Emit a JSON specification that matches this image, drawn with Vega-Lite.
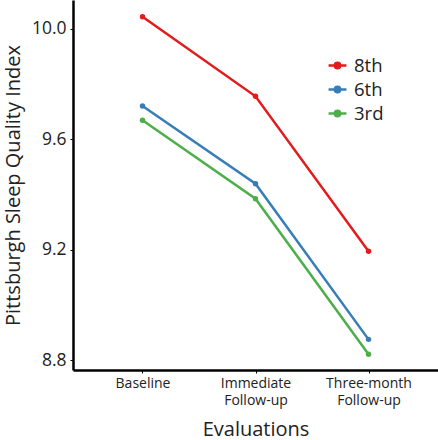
{
  "$schema": "https://vega.github.io/schema/vega-lite/v6.json",
  "width": 365,
  "height": 370,
  "autosize": "none",
  "padding": {"left": 73, "top": 0, "right": 0, "bottom": 70},
  "background": "white",
  "config": {
    "font": "Open Sans",
    "view": {"stroke": null},
    "axis": {"labelColor": "#222", "titleColor": "#222", "domainColor": "black", "tickColor": "black", "grid": false}
  },
  "data": {
    "values": [
      {"evaluation": "Baseline", "grade": "8th", "psqi": 10.044},
      {"evaluation": "Immediate Follow-up", "grade": "8th", "psqi": 9.756},
      {"evaluation": "Three-month Follow-up", "grade": "8th", "psqi": 9.194},
      {"evaluation": "Baseline", "grade": "6th", "psqi": 9.721},
      {"evaluation": "Immediate Follow-up", "grade": "6th", "psqi": 9.439},
      {"evaluation": "Three-month Follow-up", "grade": "6th", "psqi": 8.875},
      {"evaluation": "Baseline", "grade": "3rd", "psqi": 9.669},
      {"evaluation": "Immediate Follow-up", "grade": "3rd", "psqi": 9.385},
      {"evaluation": "Three-month Follow-up", "grade": "3rd", "psqi": 8.821}
    ]
  },
  "encoding": {
    "x": {
      "field": "evaluation",
      "type": "ordinal",
      "sort": ["Baseline", "Immediate Follow-up", "Three-month Follow-up"],
      "scale": {"type": "point", "padding": 0.615},
      "axis": {
        "title": "Evaluations",
        "titleFontSize": 20,
        "titleFontWeight": "normal",
        "titlePadding": 12,
        "labelFontSize": 14,
        "labelLineHeight": 17,
        "labelAngle": 0,
        "labelPadding": 3,
        "labelExpr": "datum.label == 'Baseline' ? 'Baseline' : split(datum.label, ' ')",
        "domainWidth": 2.5,
        "tickSize": 3,
        "tickWidth": 1
      }
    },
    "y": {
      "field": "psqi",
      "type": "quantitative",
      "scale": {"domain": [8.764, 10.105], "nice": false, "zero": false},
      "axis": {
        "title": "Pittsburgh Sleep Quality Index",
        "titleFontSize": 20,
        "titleFontWeight": "normal",
        "titlePadding": 8,
        "values": [8.8, 9.2, 9.6, 10.0],
        "format": ".1f",
        "labelFontSize": 17.5,
        "labelPadding": 4,
        "domainWidth": 2.5,
        "tickSize": 3,
        "tickWidth": 1
      }
    },
    "color": {
      "field": "grade",
      "type": "nominal",
      "sort": ["8th", "6th", "3rd"],
      "scale": {"domain": ["8th", "6th", "3rd"], "range": ["#e41a1c", "#377eb8", "#4daf4a"]},
      "legend": {
        "title": null,
        "orient": "none",
        "legendX": 254,
        "legendY": 55,
        "labelFontSize": 18.5,
        "labelColor": "#222",
        "symbolType": "M-1,0L1,0M-0.3,0A0.3,0.3,0,1,1,0.3,0A0.3,0.3,0,1,1,-0.3,0",
        "symbolSize": 320,
        "symbolStrokeWidth": 2.5,
        "rowPadding": 4,
        "labelOffset": 6
      }
    }
  },
  "layer": [
    {"mark": {"type": "line", "strokeWidth": 2.5}},
    {"mark": {"type": "point", "filled": true, "size": 30, "opacity": 1}}
  ]
}
